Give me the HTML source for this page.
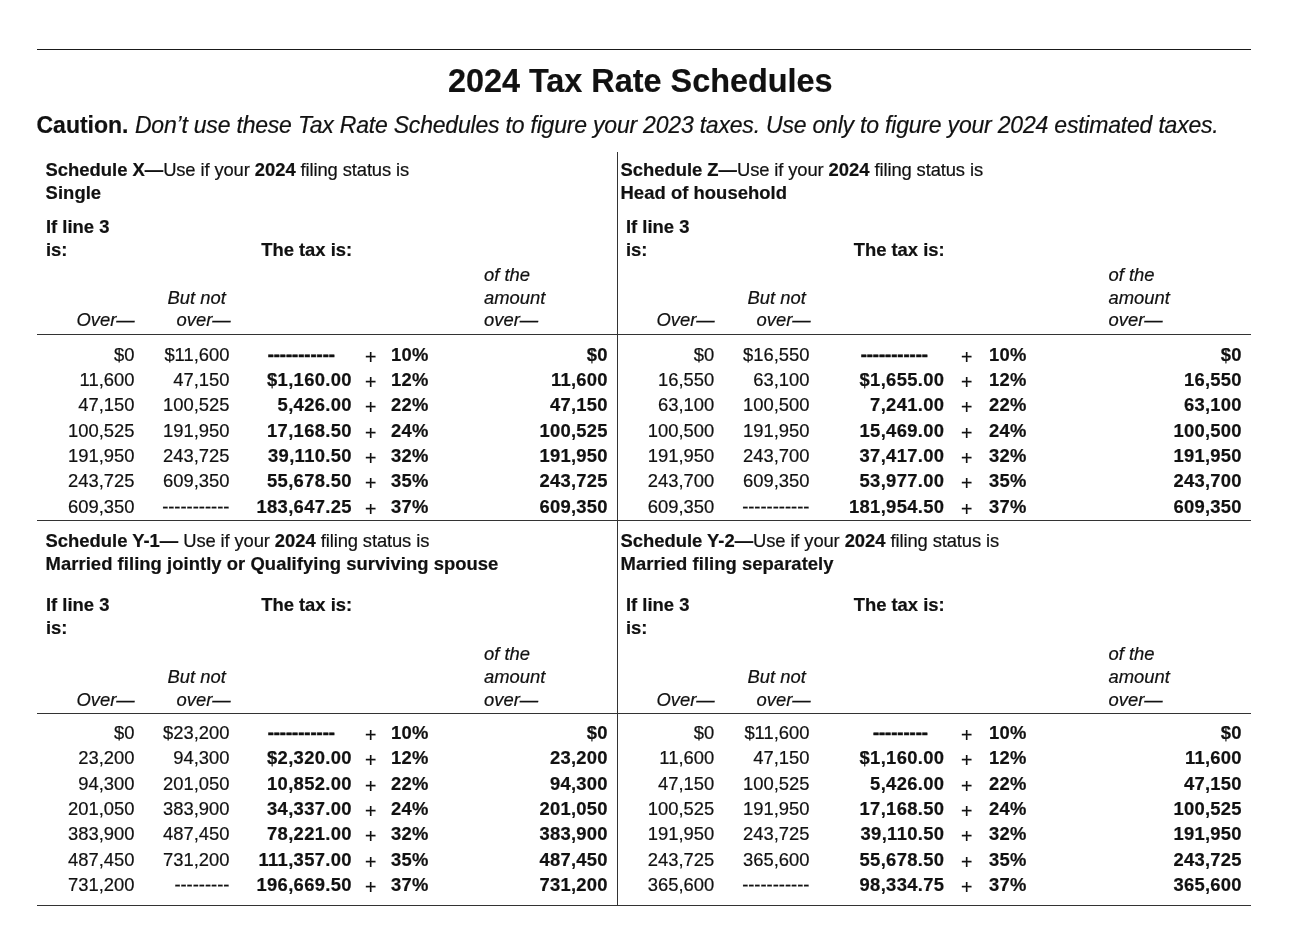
<!DOCTYPE html>
<html lang="en">
<head>
<meta charset="utf-8">
<title>2024 Tax Rate Schedules</title>
<style>
html,body{margin:0;padding:0;background:#fff}
body{width:1296px;height:938px;position:relative;overflow:hidden;font-family:"Liberation Sans",Arial,Helvetica,sans-serif;color:#111;font-size:18.4px;-webkit-text-stroke:0.2px #111}
.t{position:absolute;white-space:pre;line-height:24px;height:24px}
.b,b{font-weight:bold}
.i,i{font-style:italic}
.r{letter-spacing:-0.12px}
.d{-webkit-text-stroke:0.55px #111}
.ln{position:absolute}
</style>
</head>
<body>
<!-- page rule and title -->
<div class="ln" style="left:37px;top:48.65px;width:1214px;height:1.1px;background:#1a1a1a"></div>
<div class="t b" style="left:447.92px;top:69px;font-size:32.4px">2024 Tax Rate Schedules</div>
<div class="t" style="left:36.50px;top:113px;font-size:23px"><b>Caution.</b> <i style="letter-spacing:-0.2px">Don’t use these Tax Rate Schedules to figure your 2023 taxes. Use only to figure your 2024 estimated taxes.</i></div>
<div class="ln" style="left:616.95px;top:151.5px;width:1.1px;height:754.5px;background:#333"></div>
<!-- Schedule X -->
<div class="t" style="left:45.60px;top:158px"><b>Schedule X—</b><span class="r">Use if your </span><b>2024</b><span class="r"> filing status is</span></div>
<div class="t b" style="left:45.60px;top:181px;letter-spacing:0.06px">Single</div>
<div class="t b" style="left:46.00px;top:215px">If line 3</div>
<div class="t b" style="left:46.00px;top:238px">is:</div>
<div class="t b" style="left:261.20px;top:238px">The tax is:</div>
<div class="t i" style="left:484.00px;top:263px">of the</div>
<div class="t i" style="left:484.00px;top:286px">amount</div>
<div class="t i" style="left:484.00px;top:308px">over—</div>
<div class="t i" style="left:167.50px;top:286px">But not</div>
<div class="t i" style="left:176.50px;top:308px">over—</div>
<div class="t i" style="left:76.50px;top:308px">Over—</div>
<div class="ln" style="left:37px;top:334.35px;width:580px;height:1.1px;background:#333"></div>
<div class="t" style="right:1161.50px;top:343px">$0</div>
<div class="t" style="right:1066.50px;top:343px">$11,600</div>
<div class="t b d" style="right:961.00px;top:343px">-----------</div>
<div class="t" style="left:365.00px;top:345px;font-size:19.5px">+</div>
<div class="t b" style="left:391.00px;top:343px;letter-spacing:0.3px">10%</div>
<div class="t b" style="right:688.25px;top:343px;letter-spacing:0.25px">$0</div>
<div class="t" style="right:1161.50px;top:368px">11,600</div>
<div class="t" style="right:1066.50px;top:368px">47,150</div>
<div class="t b" style="right:944.17px;top:368px;letter-spacing:0.33px">$1,160.00</div>
<div class="t" style="left:365.00px;top:370px;font-size:19.5px">+</div>
<div class="t b" style="left:391.00px;top:368px;letter-spacing:0.3px">12%</div>
<div class="t b" style="right:688.25px;top:368px;letter-spacing:0.25px">11,600</div>
<div class="t" style="right:1161.50px;top:393px">47,150</div>
<div class="t" style="right:1066.50px;top:393px">100,525</div>
<div class="t b" style="right:944.17px;top:393px;letter-spacing:0.33px">5,426.00</div>
<div class="t" style="left:365.00px;top:395px;font-size:19.5px">+</div>
<div class="t b" style="left:391.00px;top:393px;letter-spacing:0.3px">22%</div>
<div class="t b" style="right:688.25px;top:393px;letter-spacing:0.25px">47,150</div>
<div class="t" style="right:1161.50px;top:419px">100,525</div>
<div class="t" style="right:1066.50px;top:419px">191,950</div>
<div class="t b" style="right:944.17px;top:419px;letter-spacing:0.33px">17,168.50</div>
<div class="t" style="left:365.00px;top:421px;font-size:19.5px">+</div>
<div class="t b" style="left:391.00px;top:419px;letter-spacing:0.3px">24%</div>
<div class="t b" style="right:688.25px;top:419px;letter-spacing:0.25px">100,525</div>
<div class="t" style="right:1161.50px;top:444px">191,950</div>
<div class="t" style="right:1066.50px;top:444px">243,725</div>
<div class="t b" style="right:944.17px;top:444px;letter-spacing:0.33px">39,110.50</div>
<div class="t" style="left:365.00px;top:446px;font-size:19.5px">+</div>
<div class="t b" style="left:391.00px;top:444px;letter-spacing:0.3px">32%</div>
<div class="t b" style="right:688.25px;top:444px;letter-spacing:0.25px">191,950</div>
<div class="t" style="right:1161.50px;top:469px">243,725</div>
<div class="t" style="right:1066.50px;top:469px">609,350</div>
<div class="t b" style="right:944.17px;top:469px;letter-spacing:0.33px">55,678.50</div>
<div class="t" style="left:365.00px;top:471px;font-size:19.5px">+</div>
<div class="t b" style="left:391.00px;top:469px;letter-spacing:0.3px">35%</div>
<div class="t b" style="right:688.25px;top:469px;letter-spacing:0.25px">243,725</div>
<div class="t" style="right:1161.50px;top:495px">609,350</div>
<div class="t" style="right:1066.50px;top:495px">-----------</div>
<div class="t b" style="right:944.17px;top:495px;letter-spacing:0.33px">183,647.25</div>
<div class="t" style="left:365.00px;top:497px;font-size:19.5px">+</div>
<div class="t b" style="left:391.00px;top:495px;letter-spacing:0.3px">37%</div>
<div class="t b" style="right:688.25px;top:495px;letter-spacing:0.25px">609,350</div>
<div class="ln" style="left:37px;top:519.75px;width:580px;height:1.1px;background:#333"></div>
<!-- Schedule Z -->
<div class="t" style="left:620.50px;top:158px"><b>Schedule Z—</b><span class="r">Use if your </span><b>2024</b><span class="r"> filing status is</span></div>
<div class="t b" style="left:620.50px;top:181px;letter-spacing:0.06px">Head of household</div>
<div class="t b" style="left:626.00px;top:215px">If line 3</div>
<div class="t b" style="left:626.00px;top:238px">is:</div>
<div class="t b" style="left:853.70px;top:238px">The tax is:</div>
<div class="t i" style="left:1108.50px;top:263px">of the</div>
<div class="t i" style="left:1108.50px;top:286px">amount</div>
<div class="t i" style="left:1108.50px;top:308px">over—</div>
<div class="t i" style="left:747.50px;top:286px">But not</div>
<div class="t i" style="left:756.50px;top:308px">over—</div>
<div class="t i" style="left:656.50px;top:308px">Over—</div>
<div class="ln" style="left:618px;top:334.35px;width:633px;height:1.1px;background:#333"></div>
<div class="t" style="right:581.75px;top:343px">$0</div>
<div class="t" style="right:486.50px;top:343px">$16,550</div>
<div class="t b d" style="right:368.00px;top:343px">-----------</div>
<div class="t" style="left:961.00px;top:345px;font-size:19.5px">+</div>
<div class="t b" style="left:989.00px;top:343px;letter-spacing:0.3px">10%</div>
<div class="t b" style="right:54.25px;top:343px;letter-spacing:0.25px">$0</div>
<div class="t" style="right:581.75px;top:368px">16,550</div>
<div class="t" style="right:486.50px;top:368px">63,100</div>
<div class="t b" style="right:351.67px;top:368px;letter-spacing:0.33px">$1,655.00</div>
<div class="t" style="left:961.00px;top:370px;font-size:19.5px">+</div>
<div class="t b" style="left:989.00px;top:368px;letter-spacing:0.3px">12%</div>
<div class="t b" style="right:54.25px;top:368px;letter-spacing:0.25px">16,550</div>
<div class="t" style="right:581.75px;top:393px">63,100</div>
<div class="t" style="right:486.50px;top:393px">100,500</div>
<div class="t b" style="right:351.67px;top:393px;letter-spacing:0.33px">7,241.00</div>
<div class="t" style="left:961.00px;top:395px;font-size:19.5px">+</div>
<div class="t b" style="left:989.00px;top:393px;letter-spacing:0.3px">22%</div>
<div class="t b" style="right:54.25px;top:393px;letter-spacing:0.25px">63,100</div>
<div class="t" style="right:581.75px;top:419px">100,500</div>
<div class="t" style="right:486.50px;top:419px">191,950</div>
<div class="t b" style="right:351.67px;top:419px;letter-spacing:0.33px">15,469.00</div>
<div class="t" style="left:961.00px;top:421px;font-size:19.5px">+</div>
<div class="t b" style="left:989.00px;top:419px;letter-spacing:0.3px">24%</div>
<div class="t b" style="right:54.25px;top:419px;letter-spacing:0.25px">100,500</div>
<div class="t" style="right:581.75px;top:444px">191,950</div>
<div class="t" style="right:486.50px;top:444px">243,700</div>
<div class="t b" style="right:351.67px;top:444px;letter-spacing:0.33px">37,417.00</div>
<div class="t" style="left:961.00px;top:446px;font-size:19.5px">+</div>
<div class="t b" style="left:989.00px;top:444px;letter-spacing:0.3px">32%</div>
<div class="t b" style="right:54.25px;top:444px;letter-spacing:0.25px">191,950</div>
<div class="t" style="right:581.75px;top:469px">243,700</div>
<div class="t" style="right:486.50px;top:469px">609,350</div>
<div class="t b" style="right:351.67px;top:469px;letter-spacing:0.33px">53,977.00</div>
<div class="t" style="left:961.00px;top:471px;font-size:19.5px">+</div>
<div class="t b" style="left:989.00px;top:469px;letter-spacing:0.3px">35%</div>
<div class="t b" style="right:54.25px;top:469px;letter-spacing:0.25px">243,700</div>
<div class="t" style="right:581.75px;top:495px">609,350</div>
<div class="t" style="right:486.50px;top:495px">-----------</div>
<div class="t b" style="right:351.67px;top:495px;letter-spacing:0.33px">181,954.50</div>
<div class="t" style="left:961.00px;top:497px;font-size:19.5px">+</div>
<div class="t b" style="left:989.00px;top:495px;letter-spacing:0.3px">37%</div>
<div class="t b" style="right:54.25px;top:495px;letter-spacing:0.25px">609,350</div>
<div class="ln" style="left:618px;top:519.75px;width:633px;height:1.1px;background:#333"></div>
<!-- Schedule Y-1 -->
<div class="t" style="left:45.60px;top:529px"><b>Schedule Y-1—</b> <span class="r">Use if your </span><b>2024</b><span class="r"> filing status is</span></div>
<div class="t b" style="left:45.60px;top:552px;letter-spacing:0.06px">Married filing jointly or Qualifying surviving spouse</div>
<div class="t b" style="left:46.00px;top:593px">If line 3</div>
<div class="t b" style="left:46.00px;top:616px">is:</div>
<div class="t b" style="left:261.20px;top:593px">The tax is:</div>
<div class="t i" style="left:484.00px;top:642px">of the</div>
<div class="t i" style="left:484.00px;top:665px">amount</div>
<div class="t i" style="left:484.00px;top:688px">over—</div>
<div class="t i" style="left:167.50px;top:665px">But not</div>
<div class="t i" style="left:176.50px;top:688px">over—</div>
<div class="t i" style="left:76.50px;top:688px">Over—</div>
<div class="ln" style="left:37px;top:712.65px;width:580px;height:1.1px;background:#333"></div>
<div class="t" style="right:1161.50px;top:721px">$0</div>
<div class="t" style="right:1066.50px;top:721px">$23,200</div>
<div class="t b d" style="right:961.00px;top:721px">-----------</div>
<div class="t" style="left:365.00px;top:723px;font-size:19.5px">+</div>
<div class="t b" style="left:391.00px;top:721px;letter-spacing:0.3px">10%</div>
<div class="t b" style="right:688.25px;top:721px;letter-spacing:0.25px">$0</div>
<div class="t" style="right:1161.50px;top:746px">23,200</div>
<div class="t" style="right:1066.50px;top:746px">94,300</div>
<div class="t b" style="right:944.17px;top:746px;letter-spacing:0.33px">$2,320.00</div>
<div class="t" style="left:365.00px;top:748px;font-size:19.5px">+</div>
<div class="t b" style="left:391.00px;top:746px;letter-spacing:0.3px">12%</div>
<div class="t b" style="right:688.25px;top:746px;letter-spacing:0.25px">23,200</div>
<div class="t" style="right:1161.50px;top:772px">94,300</div>
<div class="t" style="right:1066.50px;top:772px">201,050</div>
<div class="t b" style="right:944.17px;top:772px;letter-spacing:0.33px">10,852.00</div>
<div class="t" style="left:365.00px;top:774px;font-size:19.5px">+</div>
<div class="t b" style="left:391.00px;top:772px;letter-spacing:0.3px">22%</div>
<div class="t b" style="right:688.25px;top:772px;letter-spacing:0.25px">94,300</div>
<div class="t" style="right:1161.50px;top:797px">201,050</div>
<div class="t" style="right:1066.50px;top:797px">383,900</div>
<div class="t b" style="right:944.17px;top:797px;letter-spacing:0.33px">34,337.00</div>
<div class="t" style="left:365.00px;top:799px;font-size:19.5px">+</div>
<div class="t b" style="left:391.00px;top:797px;letter-spacing:0.3px">24%</div>
<div class="t b" style="right:688.25px;top:797px;letter-spacing:0.25px">201,050</div>
<div class="t" style="right:1161.50px;top:822px">383,900</div>
<div class="t" style="right:1066.50px;top:822px">487,450</div>
<div class="t b" style="right:944.17px;top:822px;letter-spacing:0.33px">78,221.00</div>
<div class="t" style="left:365.00px;top:824px;font-size:19.5px">+</div>
<div class="t b" style="left:391.00px;top:822px;letter-spacing:0.3px">32%</div>
<div class="t b" style="right:688.25px;top:822px;letter-spacing:0.25px">383,900</div>
<div class="t" style="right:1161.50px;top:848px">487,450</div>
<div class="t" style="right:1066.50px;top:848px">731,200</div>
<div class="t b" style="right:944.17px;top:848px;letter-spacing:0.33px">111,357.00</div>
<div class="t" style="left:365.00px;top:850px;font-size:19.5px">+</div>
<div class="t b" style="left:391.00px;top:848px;letter-spacing:0.3px">35%</div>
<div class="t b" style="right:688.25px;top:848px;letter-spacing:0.25px">487,450</div>
<div class="t" style="right:1161.50px;top:873px">731,200</div>
<div class="t" style="right:1066.50px;top:873px">---------</div>
<div class="t b" style="right:944.17px;top:873px;letter-spacing:0.33px">196,669.50</div>
<div class="t" style="left:365.00px;top:875px;font-size:19.5px">+</div>
<div class="t b" style="left:391.00px;top:873px;letter-spacing:0.3px">37%</div>
<div class="t b" style="right:688.25px;top:873px;letter-spacing:0.25px">731,200</div>
<div class="ln" style="left:37px;top:904.95px;width:580px;height:1.1px;background:#333"></div>
<!-- Schedule Y-2 -->
<div class="t" style="left:620.50px;top:529px"><b>Schedule Y-2—</b><span class="r">Use if your </span><b>2024</b><span class="r"> filing status is</span></div>
<div class="t b" style="left:620.50px;top:552px;letter-spacing:0.06px">Married filing separately</div>
<div class="t b" style="left:626.00px;top:593px">If line 3</div>
<div class="t b" style="left:626.00px;top:616px">is:</div>
<div class="t b" style="left:853.70px;top:593px">The tax is:</div>
<div class="t i" style="left:1108.50px;top:642px">of the</div>
<div class="t i" style="left:1108.50px;top:665px">amount</div>
<div class="t i" style="left:1108.50px;top:688px">over—</div>
<div class="t i" style="left:747.50px;top:665px">But not</div>
<div class="t i" style="left:756.50px;top:688px">over—</div>
<div class="t i" style="left:656.50px;top:688px">Over—</div>
<div class="ln" style="left:618px;top:712.65px;width:633px;height:1.1px;background:#333"></div>
<div class="t" style="right:581.75px;top:721px">$0</div>
<div class="t" style="right:486.50px;top:721px">$11,600</div>
<div class="t b d" style="right:368.00px;top:721px">---------</div>
<div class="t" style="left:961.00px;top:723px;font-size:19.5px">+</div>
<div class="t b" style="left:989.00px;top:721px;letter-spacing:0.3px">10%</div>
<div class="t b" style="right:54.25px;top:721px;letter-spacing:0.25px">$0</div>
<div class="t" style="right:581.75px;top:746px">11,600</div>
<div class="t" style="right:486.50px;top:746px">47,150</div>
<div class="t b" style="right:351.67px;top:746px;letter-spacing:0.33px">$1,160.00</div>
<div class="t" style="left:961.00px;top:748px;font-size:19.5px">+</div>
<div class="t b" style="left:989.00px;top:746px;letter-spacing:0.3px">12%</div>
<div class="t b" style="right:54.25px;top:746px;letter-spacing:0.25px">11,600</div>
<div class="t" style="right:581.75px;top:772px">47,150</div>
<div class="t" style="right:486.50px;top:772px">100,525</div>
<div class="t b" style="right:351.67px;top:772px;letter-spacing:0.33px">5,426.00</div>
<div class="t" style="left:961.00px;top:774px;font-size:19.5px">+</div>
<div class="t b" style="left:989.00px;top:772px;letter-spacing:0.3px">22%</div>
<div class="t b" style="right:54.25px;top:772px;letter-spacing:0.25px">47,150</div>
<div class="t" style="right:581.75px;top:797px">100,525</div>
<div class="t" style="right:486.50px;top:797px">191,950</div>
<div class="t b" style="right:351.67px;top:797px;letter-spacing:0.33px">17,168.50</div>
<div class="t" style="left:961.00px;top:799px;font-size:19.5px">+</div>
<div class="t b" style="left:989.00px;top:797px;letter-spacing:0.3px">24%</div>
<div class="t b" style="right:54.25px;top:797px;letter-spacing:0.25px">100,525</div>
<div class="t" style="right:581.75px;top:822px">191,950</div>
<div class="t" style="right:486.50px;top:822px">243,725</div>
<div class="t b" style="right:351.67px;top:822px;letter-spacing:0.33px">39,110.50</div>
<div class="t" style="left:961.00px;top:824px;font-size:19.5px">+</div>
<div class="t b" style="left:989.00px;top:822px;letter-spacing:0.3px">32%</div>
<div class="t b" style="right:54.25px;top:822px;letter-spacing:0.25px">191,950</div>
<div class="t" style="right:581.75px;top:848px">243,725</div>
<div class="t" style="right:486.50px;top:848px">365,600</div>
<div class="t b" style="right:351.67px;top:848px;letter-spacing:0.33px">55,678.50</div>
<div class="t" style="left:961.00px;top:850px;font-size:19.5px">+</div>
<div class="t b" style="left:989.00px;top:848px;letter-spacing:0.3px">35%</div>
<div class="t b" style="right:54.25px;top:848px;letter-spacing:0.25px">243,725</div>
<div class="t" style="right:581.75px;top:873px">365,600</div>
<div class="t" style="right:486.50px;top:873px">-----------</div>
<div class="t b" style="right:351.67px;top:873px;letter-spacing:0.33px">98,334.75</div>
<div class="t" style="left:961.00px;top:875px;font-size:19.5px">+</div>
<div class="t b" style="left:989.00px;top:873px;letter-spacing:0.3px">37%</div>
<div class="t b" style="right:54.25px;top:873px;letter-spacing:0.25px">365,600</div>
<div class="ln" style="left:618px;top:904.95px;width:633px;height:1.1px;background:#333"></div>
</body>
</html>
